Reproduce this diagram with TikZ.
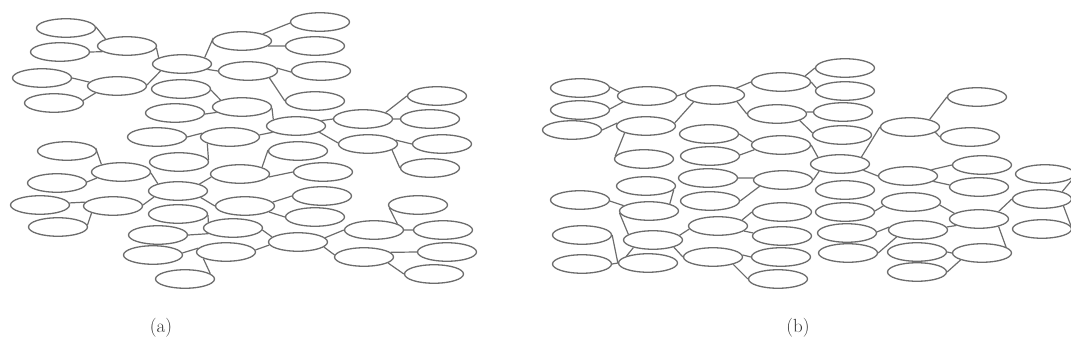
\documentclass[tikz,border=0pt]{standalone}
\usepackage{fontspec}
\usepackage{tikz}
\usetikzlibrary{shapes.geometric}
\definecolor{lc}{RGB}{108,108,108}
\tikzset{
  el/.style={ellipse,draw=lc,line width=1.3pt,minimum width=59pt,minimum height=18.5pt,inner sep=0pt},
  ln/.style={draw=lc,line width=1.2pt},
  lab/.style={font=\fontsize{19}{23}\selectfont,text=black!80}
}
\begin{document}
\begin{tikzpicture}[x=1pt,y=-1pt]
\useasboundingbox (0,0) rectangle (1071,359);
% ---------- panel (a) ----------
\node[el] (a1) at (66,28) {};
\node[el] (a2) at (127,46) {};
\node[el] (a3) at (60,52) {};
\node[el] (a4) at (182,64) {};
\node[el] (a5) at (42,78) {};
\node[el] (a6) at (117,86) {};
\node[el] (a7) at (54,103) {};
\node[el] (a8) at (181,89) {};
\node[el] (a9) at (175,113) {};
\node[el] (a10) at (242,107) {};
\node[el] (a11) at (157,137) {};
\node[el] (a12) at (230,137) {};
\node[el] (a13) at (242,41) {};
\node[el] (a14) at (320,22) {};
\node[el] (a15) at (315,46) {};
\node[el] (a16) at (248,71) {};
\node[el] (a17) at (321,71) {};
\node[el] (a18) at (315,101) {};
\node[el] (a19) at (437,96) {};
\node[el] (a20) at (363,119) {};
\node[el] (a21) at (430,119) {};
\node[el] (a22) at (296,126) {};
\node[el] (a23) at (298,151) {};
\node[el] (a24) at (368,144) {};
\node[el] (a25) at (442,144) {};
\node[el] (a26) at (430,168) {};
\node[el] (a27) at (67,151) {};
\node[el] (a28) at (179,162) {};
\node[el] (a29) at (121,172) {};
\node[el] (a30) at (240,174) {};
\node[el] (a31) at (57,183) {};
\node[el] (a32) at (178,191) {};
\node[el] (a33) at (40,205) {};
\node[el] (a34) at (113,206) {};
\node[el] (a35) at (245,206) {};
\node[el] (a36) at (58,227) {};
\node[el] (a37) at (178,214) {};
\node[el] (a38) at (233,228) {};
\node[el] (a39) at (158,235) {};
\node[el] (a40) at (153,255) {};
\node[el] (a41) at (226,252) {};
\node[el] (a42) at (185,279) {};
\node[el] (a43) at (323,172) {};
\node[el] (a44) at (322,196) {};
\node[el] (a45) at (418,205) {};
\node[el] (a46) at (315,217) {};
\node[el] (a47) at (374,230) {};
\node[el] (a48) at (443,230) {};
\node[el] (a49) at (298,242) {};
\node[el] (a50) at (364,257) {};
\node[el] (a51) at (447,252) {};
\node[el] (a52) at (434,274) {};
\path[ln]
 (a1.2) -- (a2.162)
 (a3.0) -- (a2.193)
 (a2.-4) -- (a4.165)
 (a5.0) -- (a6.172)
 (a7.5) -- (a6.198)
 (a6.2) -- (a4.198)
 (a4.16) -- (a13.174)
 (a4.-12) -- (a16.180)
 (a8.-2) -- (a10.162)
 (a9.-2) -- (a10.192)
 (a11.0) -- (a12.172)
 (a12.196) -- (a28.4)
 (a13.19) -- (a14.182)
 (a13.-11) -- (a15.180)
 (a16.6) -- (a17.182)
 (a16.-18) -- (a18.180)
 (a10.-2) -- (a22.164)
 (a22.12) -- (a20.180)
 (a20.16) -- (a19.180)
 (a20.0) -- (a21.180)
 (a12.4) -- (a22.195)
 (a22.-15) -- (a24.178)
 (a24.8) -- (a25.180)
 (a24.-14) -- (a26.180)
 (a23.178) -- (a30.17)
 (a30.-6) -- (a43.180)
 (a35.8) -- (a44.180)
 (a35.-14) -- (a46.180)
 (a38.-4) -- (a49.169)
 (a41.4) -- (a49.186)
 (a49.9) -- (a47.180)
 (a49.-11) -- (a50.176)
 (a47.15) -- (a45.186)
 (a47.0) -- (a48.180)
 (a50.10) -- (a51.180)
 (a50.-14) -- (a52.180)
 (a27.6) -- (a29.159)
 (a31.2) -- (a29.194)
 (a29.-2) -- (a32.160)
 (a33.4) -- (a34.172)
 (a36.4) -- (a34.198)
 (a34.2) -- (a32.194)
 (a32.18) -- (a30.186)
 (a32.-16) -- (a35.180)
 (a37.-2) -- (a38.167)
 (a39.0) -- (a38.193)
 (a40.4) -- (a41.172)
 (a41.196) -- (a42.12);
% ---------- panel (b) ----------
\node[el] (b1) at (580,88) {};
\node[el] (b2) at (647,96) {};
\node[el] (b3) at (715,95) {};
\node[el] (b4) at (580,110) {};
\node[el] (b5) at (572,130) {};
\node[el] (b6) at (646,126) {};
\node[el] (b7) at (644,159) {};
\node[el] (b8) at (781,82) {};
\node[el] (b9) at (845,68) {};
\node[el] (b10) at (845,91) {};
\node[el] (b11) at (777,114) {};
\node[el] (b12) at (843,112) {};
\node[el] (b13) at (709,134) {};
\node[el] (b14) at (710,156) {};
\node[el] (b15) at (781,145) {};
\node[el] (b16) at (842,135) {};
\node[el] (b17) at (977,97) {};
\node[el] (b18) at (910,127) {};
\node[el] (b19) at (970,137) {};
\node[el] (b20) at (840,164) {};
\node[el] (b21) at (646,186) {};
\node[el] (b22) at (708,178) {};
\node[el] (b23) at (783,180) {};
\node[el] (b24) at (908,176) {};
\node[el] (b25) at (982,165) {};
\node[el] (b26) at (845,190) {};
\node[el] (b27) at (979,187) {};
\node[el] (b28) at (1045,174) {};
\node[el] (b29) at (580,200) {};
\node[el] (b30) at (710,201) {};
\node[el] (b31) at (649,211) {};
\node[el] (b32) at (782,212) {};
\node[el] (b33) at (845,212) {};
\node[el] (b34) at (911,202) {};
\node[el] (b35) at (1042,199) {};
\node[el] (b36) at (718,226) {};
\node[el] (b37) at (782,236) {};
\node[el] (b38) at (582,235) {};
\node[el] (b39) at (653,240) {};
\node[el] (b40) at (847,233) {};
\node[el] (b41) at (918,230) {};
\node[el] (b42) at (979,219) {};
\node[el] (b43) at (1042,229) {};
\node[el] (b44) at (713,257) {};
\node[el] (b45) at (781,257) {};
\node[el] (b46) at (582,264) {};
\node[el] (b47) at (648,263) {};
\node[el] (b48) at (848,253) {};
\node[el] (b49) at (917,252) {};
\node[el] (b50) at (982,253) {};
\node[el] (b51) at (778,279) {};
\node[el] (b52) at (917,272) {};
\coordinate (rx) at (1076,175);
\path[ln]
 (b1.2) -- (b2.172)
 (b4.2) -- (b2.194)
 (b2.0) -- (b3.176)
 (b5.0) -- (b6.174)
 (b6.6) -- (b3.198)
 (b6.198) -- (b7.174)
 (b3.18) -- (b8.180)
 (b3.-17) -- (b11.180)
 (b13.0) -- (b15.174)
 (b14.2) -- (b15.190)
 (b22.0) -- (b23.176)
 (b30.0) -- (b23.195)
 (b21.-8) -- (b31.19)
 (b29.-2) -- (b31.168)
 (b31.184) -- (b39.167)
 (b38.0) -- (b47.180)
 (b46.0) -- (b47.180)
 (b39.201) -- (b47.162)
 (b39.10) -- (b36.186)
 (b39.-19) -- (b44.180)
 (b36.14) -- (b32.180)
 (b36.-11) -- (b37.174)
 (b44.4) -- (b45.180)
 (b44.-20) -- (b51.180)
 (b8.14) -- (b9.180)
 (b8.0) -- (b10.174)
 (b11.4) -- (b12.180)
 (b11.-16) -- (b16.176)
 (b15.0) -- (b20.163)
 (b20.18) -- (b18.180)
 (b18.21) -- (b17.180)
 (b18.-12) -- (b19.180)
 (b20.-15) -- (b24.180)
 (b24.15) -- (b25.180)
 (b24.-12) -- (b27.176)
 (b23.0) -- (b20.199)
 (b33.2) -- (b34.188)
 (b34.-6) -- (b42.167)
 (b42.21) -- (b35.180)
 (b42.-21) -- (b50.14)
 (b40.2) -- (b41.174)
 (b41.6) -- (b42.196)
 (b48.0) -- (b41.198)
 (b49.0) -- (b50.180)
 (b52.0) -- (b50.198)
 (b35.20) -- (rx)
 (b35.-18) -- (b43.0);
% ---------- labels ----------
\node[lab] (la) at (161,328) {(a)};
\node[lab] (lb) at (798,328) {(b)};
\end{tikzpicture}
\end{document}
